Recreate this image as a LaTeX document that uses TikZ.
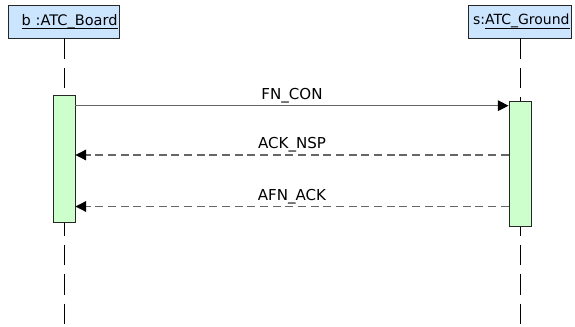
\documentclass[tikz,border=0pt]{standalone}
\usepackage{fontspec}
\setmainfont{DejaVu Sans}
\usetikzlibrary{arrows.meta}

\definecolor{headblue}{RGB}{204,229,255}
\definecolor{actgreen}{RGB}{204,255,204}
\newcommand\objname[1]{\setbox0\hbox{#1}\rlap{\rule[-2.8pt]{\wd0}{0.6pt}}\box0}

\begin{document}
\begin{tikzpicture}[x=0.75pt,y=-0.75pt,
  obj/.style={draw=black!85,fill=headblue,line width=0.7pt,minimum height=24.75pt,
    inner xsep=1.2pt,inner ysep=0pt,align=right,font=\fontsize{10.5}{12}\selectfont},
  act/.style={draw=black!85,fill=actgreen,line width=0.7pt,minimum width=16.5pt,inner sep=0pt,anchor=north},
  life/.style={black,line width=0.75pt,dash pattern=on 15.4pt off 6.7pt},
  msg/.style={black!60,line width=0.8pt,-{Triangle[length=8pt,width=8pt,color=black]}},
  reply/.style={msg,dash pattern=on 6pt off 3.5pt},
  lbl/.style={anchor=base,yshift=4.8pt,text=black,font=\fontsize{11.3}{13}\selectfont}]
\useasboundingbox (0,0) rectangle (575,327);
%\draw[help lines,step=50] (0,0) grid (575,327);

\node[obj,text width=80.3pt,font=\fontsize{10.9}{12}\selectfont] (b) at (64,21.5) {\objname{b :ATC\_Board}};
\node[obj,text width=74.3pt] (s) at (520,21.5) {s:\objname{ATC\_Ground}};

\coordinate (bend) at (64,327);
\coordinate (send) at (520,327);
\draw[life] (b.south) -- (bend);
\draw[life] (s.south) -- (send);

\node[act,minimum height=95.25pt] (ab) at (64,95) {};
\node[act,minimum height=93.75pt] (as) at (520,101) {};

\coordinate (m1) at (0,105.7);
\coordinate (m2) at (0,155);
\coordinate (m3) at (0,206.5);

\draw[msg] (ab.east |- m1) -- node[lbl] {FN\_CON} (as.west |- m1);
\draw[reply] (as.west |- m2) -- node[lbl] {ACK\_NSP} (ab.east |- m2);
\draw[reply] (as.west |- m3) -- node[lbl] {AFN\_ACK} (ab.east |- m3);

\end{tikzpicture}
\end{document}
